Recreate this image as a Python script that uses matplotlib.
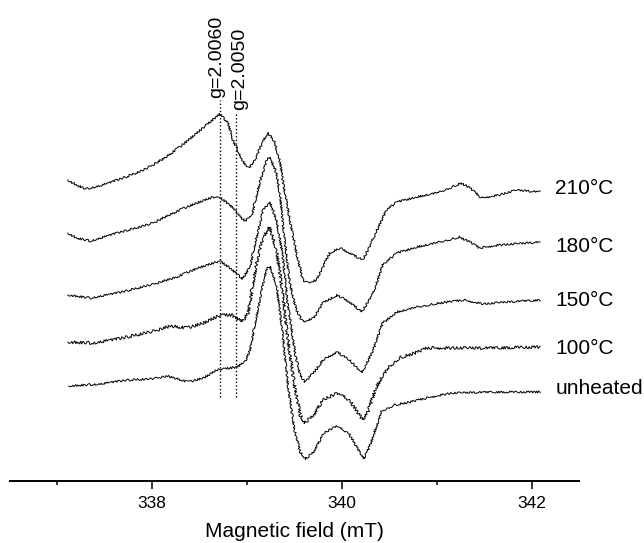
import matplotlib
matplotlib.use('Agg')
import matplotlib.pyplot as plt
from matplotlib.ticker import MultipleLocator

plt.rcParams['font.family'] = ['Liberation Sans', 'DejaVu Sans']

# EPR spectra, intensity in arbitrary units (already stacked)
b_210 = [337.11, 337.20, 337.30, 337.48, 337.69, 337.91, 338.13, 338.29, 338.47, 338.61,
         338.71, 338.80, 338.85, 338.96, 339.02, 339.10, 339.17, 339.23, 339.29, 339.35,
         339.38, 339.45, 339.52, 339.59, 339.64, 339.73, 339.80, 339.87, 339.98, 340.08,
         340.22, 340.29, 340.37, 340.47, 340.58, 340.79, 341.03, 341.26, 341.35, 341.47,
         341.66, 341.84, 342.09]
i_210 = [301, 296, 292, 296, 303, 311, 323, 334, 348, 359,
         367, 358, 341, 319, 313, 324, 341, 348, 339, 318,
         298, 261, 228, 201, 198, 201, 214, 228, 233, 228,
         221, 234, 251, 271, 279, 284, 289, 298, 293, 283,
         286, 291, 289]

b_180 = [337.11, 337.20, 337.35, 337.63, 337.98, 338.29, 338.47, 338.64, 338.72, 338.82,
         338.93, 338.98, 339.05, 339.14, 339.21, 339.24, 339.31, 339.35, 339.38, 339.42,
         339.45, 339.52, 339.59, 339.70, 339.80, 339.95, 340.08, 340.21, 340.33, 340.43,
         340.58, 340.79, 341.03, 341.24, 341.35, 341.45, 341.66, 342.09]
i_180 = [248, 243, 240, 248, 257, 271, 278, 284, 283, 276,
         264, 260, 266, 301, 321, 324, 308, 284, 254, 221,
         198, 171, 159, 163, 178, 186, 179, 169, 188, 216,
         228, 234, 239, 244, 239, 233, 236, 239]

b_150 = [337.11, 337.35, 337.63, 337.98, 338.26, 338.48, 338.71, 338.82, 338.95, 339.03,
         339.10, 339.17, 339.24, 339.31, 339.37, 339.43, 339.51, 339.56, 339.61, 339.70,
         339.80, 339.95, 340.08, 340.21, 340.33, 340.43, 340.58, 340.79, 341.03, 341.28,
         341.49, 341.73, 342.09]
i_150 = [186, 183, 188, 196, 204, 213, 220, 213, 202, 214,
         244, 271, 279, 261, 229, 176, 126, 106, 99, 108,
         121, 129, 121, 108, 131, 158, 169, 174, 178, 181,
         177, 179, 181]

b_100 = [337.11, 337.38, 337.63, 337.98, 338.19, 338.37, 338.54, 338.72, 338.84, 338.95,
         339.01, 339.10, 339.17, 339.24, 339.31, 339.37, 339.43, 339.50, 339.56, 339.61,
         339.70, 339.80, 339.95, 340.08, 340.22, 340.27, 340.35, 340.43, 340.50, 340.60,
         340.80, 340.90, 341.20, 341.50, 342.09]
i_100 = [139, 138, 142, 149, 155, 153, 158, 166, 166, 159,
         168, 218, 244, 254, 231, 191, 141, 96, 66, 58,
         66, 81, 88, 81, 61, 68, 91, 106, 114, 123,
         129, 133, 133, 133, 134]

b_unh = [337.12, 337.45, 337.74, 337.98, 338.16, 338.38, 338.54, 338.68, 338.89, 338.98,
         339.03, 339.14, 339.20, 339.24, 339.31, 339.37, 339.43, 339.50, 339.56, 339.62,
         339.70, 339.81, 339.94, 340.07, 340.23, 340.29, 340.42, 340.55, 340.72, 340.94,
         341.16, 341.59, 342.09]
i_unh = [95, 97, 101, 102, 105, 99, 103, 111, 114, 119,
         131, 184, 211, 215, 196, 151, 96, 51, 29, 22,
         29, 48, 55, 48, 22, 34, 70, 76, 79, 84,
         88, 89, 89]

labels = ['210°C', '180°C', '150°C', '100°C', 'unheated']
label_y = [293, 234, 181, 133, 93]

g_pos = [338.71, 338.88]
g_text = ['g=2.0060', 'g=2.0050']
g_top = [381, 369]
g_bottom = 84

fig = plt.figure(figsize=(6.44, 5.43), dpi=100)
ax = fig.add_axes([10/644, 62/543, 569/644, 481/543])

traces = [(b_210, i_210), (b_180, i_180), (b_150, i_150), (b_100, i_100), (b_unh, i_unh)]
for k, (b, i) in enumerate(traces):
    ln, = ax.plot(b, i, color='black', lw=0.7)
    ln.set_sketch_params(scale=1.0 if k != 3 else 1.5, length=2.0, randomness=3.0)

for lab, y in zip(labels, label_y):
    ax.text(342.25, y, lab, fontsize=15, ha='left', va='center', clip_on=False)

for x, t, top, dx in zip(g_pos, g_text, g_top, [-2, 2.5]):
    ax.plot([x, x], [g_bottom, top], color='black', lw=1.0, linestyle=(0, (1, 1.6)))
    ax.annotate(t, (x, top + 2), xytext=(dx, 0), textcoords='offset points',
                rotation=90, fontsize=14, ha='center', va='bottom')

ax.set_xlim(336.5, 342.5)
ax.set_ylim(0, 481)
for s in ['top', 'left', 'right']:
    ax.spines[s].set_visible(False)
ax.spines['bottom'].set_linewidth(1.4)
ax.set_yticks([])
ax.xaxis.set_major_locator(MultipleLocator(2))
ax.xaxis.set_minor_locator(MultipleLocator(1))
ax.tick_params(axis='x', which='major', length=6, width=1.1, labelsize=12.5, pad=5)
ax.tick_params(axis='x', which='minor', length=3, width=1.1)
ax.set_xlabel('Magnetic field (mT)', fontsize=15, labelpad=8)

fig.savefig('out.png', dpi=100)
